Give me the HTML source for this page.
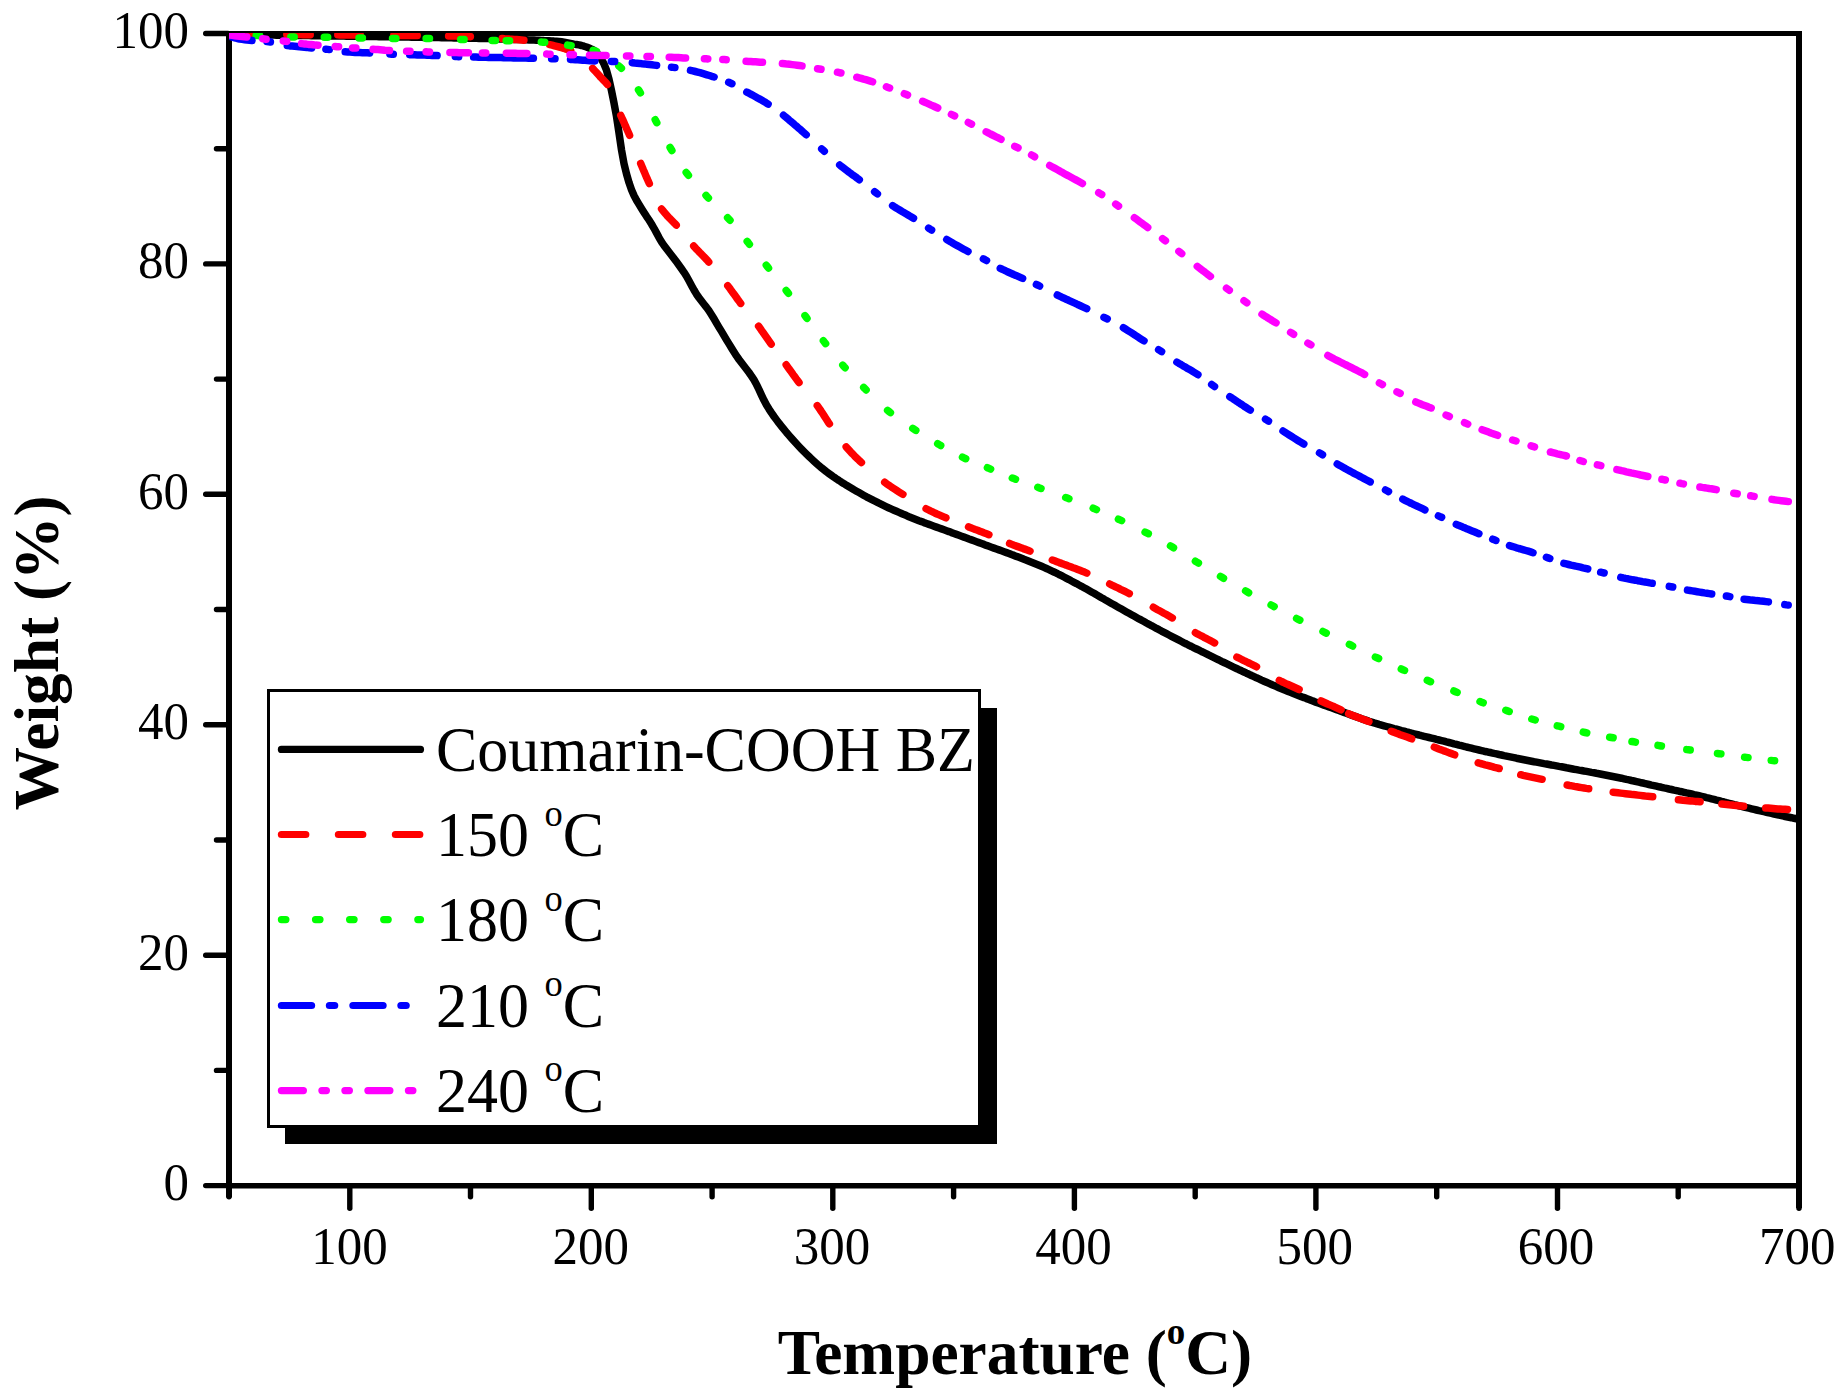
<!DOCTYPE html>
<html lang="en"><head><meta charset="utf-8"><title>TGA – Weight (%) vs Temperature (°C)</title>
<style>html,body{margin:0;padding:0;background:#fff}body{width:1848px;height:1397px;overflow:hidden}svg{display:block}text{font-family:"Liberation Serif",serif;fill:#000}.tk{font-size:51px}.lg{font-size:62px}.ti{font-size:63.4px;font-weight:bold}.c{fill:none;stroke-width:7.5;stroke-linecap:round;stroke-linejoin:round}</style></head><body>
<svg width="1848" height="1397" viewBox="0 0 1848 1397">
<rect width="1848" height="1397" fill="#fff"/>
<g fill="#000">
<rect x="226" y="31" width="6" height="1166.5"/>
<rect x="1796" y="31" width="6" height="1177"/>
<rect x="226" y="31" width="1576" height="5"/>
<rect x="226" y="1183" width="1576" height="5.5"/>
</g>
<g stroke="#000" stroke-linecap="round" fill="none">
<line x1="205.7" y1="1185.6" x2="228" y2="1185.6" stroke-width="5.4"/>
<line x1="216.5" y1="1070.4" x2="228" y2="1070.4" stroke-width="5.4"/>
<line x1="205.7" y1="955.2" x2="228" y2="955.2" stroke-width="5.4"/>
<line x1="216.5" y1="840" x2="228" y2="840" stroke-width="5.4"/>
<line x1="205.7" y1="724.8" x2="228" y2="724.8" stroke-width="5.4"/>
<line x1="216.5" y1="609.5" x2="228" y2="609.5" stroke-width="5.4"/>
<line x1="205.7" y1="494.3" x2="228" y2="494.3" stroke-width="5.4"/>
<line x1="216.5" y1="379.1" x2="228" y2="379.1" stroke-width="5.4"/>
<line x1="205.7" y1="263.9" x2="228" y2="263.9" stroke-width="5.4"/>
<line x1="216.5" y1="148.7" x2="228" y2="148.7" stroke-width="5.4"/>
<line x1="205.7" y1="33.5" x2="228" y2="33.5" stroke-width="5.4"/>
<line x1="229" y1="1186" x2="229" y2="1196.8" stroke-width="5.4"/>
<line x1="349.8" y1="1186" x2="349.8" y2="1208.3" stroke-width="5.4"/>
<line x1="470.5" y1="1186" x2="470.5" y2="1196.8" stroke-width="5.4"/>
<line x1="591.3" y1="1186" x2="591.3" y2="1208.3" stroke-width="5.4"/>
<line x1="712.1" y1="1186" x2="712.1" y2="1196.8" stroke-width="5.4"/>
<line x1="832.8" y1="1186" x2="832.8" y2="1208.3" stroke-width="5.4"/>
<line x1="953.6" y1="1186" x2="953.6" y2="1196.8" stroke-width="5.4"/>
<line x1="1074.4" y1="1186" x2="1074.4" y2="1208.3" stroke-width="5.4"/>
<line x1="1195.2" y1="1186" x2="1195.2" y2="1196.8" stroke-width="5.4"/>
<line x1="1315.9" y1="1186" x2="1315.9" y2="1208.3" stroke-width="5.4"/>
<line x1="1436.7" y1="1186" x2="1436.7" y2="1196.8" stroke-width="5.4"/>
<line x1="1557.5" y1="1186" x2="1557.5" y2="1208.3" stroke-width="5.4"/>
<line x1="1678.2" y1="1186" x2="1678.2" y2="1196.8" stroke-width="5.4"/>
<line x1="1799" y1="1186" x2="1799" y2="1208.3" stroke-width="5.4"/>
</g>
<clipPath id="cp"><rect x="229" y="33" width="1570" height="1153"/></clipPath>
<g clip-path="url(#cp)">
<path class="c" stroke="#000" stroke-width="7.8" d="M229 34.5 L231.5 34.5 L234 34.6 L236.5 34.6 L239 34.6 L241.5 34.7 L244 34.7 L246.5 34.7 L249 34.8 L251.5 34.8 L254 34.8 L256.5 34.9 L259 34.9 L261.5 35 L264 35 L266.5 35 L269 35.1 L271.5 35.1 L274 35.1 L276.5 35.2 L279 35.2 L281.5 35.2 L284 35.3 L286.5 35.3 L289 35.3 L291.5 35.4 L294 35.4 L296.5 35.4 L299 35.5 L301.5 35.5 L304 35.6 L306.5 35.6 L309 35.6 L311.5 35.7 L314 35.7 L316.5 35.7 L319 35.8 L321.5 35.8 L324 35.8 L326.5 35.9 L329 35.9 L331.5 36 L334 36 L336.5 36 L339 36.1 L341.5 36.1 L344 36.1 L346.5 36.2 L349 36.2 L351.5 36.3 L354 36.3 L356.5 36.3 L359 36.4 L361.5 36.4 L364 36.4 L366.5 36.5 L369 36.5 L371.5 36.6 L374 36.6 L376.5 36.6 L379 36.7 L381.5 36.7 L384 36.7 L386.5 36.8 L389 36.8 L391.5 36.9 L394 36.9 L396.5 36.9 L399 37 L401.5 37 L404 37.1 L406.5 37.1 L409 37.1 L411.5 37.2 L414 37.2 L416.5 37.3 L419 37.3 L421.5 37.3 L424 37.4 L426.5 37.4 L429 37.5 L431.5 37.5 L434 37.5 L436.5 37.6 L439 37.6 L441.5 37.7 L444 37.7 L446.5 37.7 L449 37.8 L451.5 37.8 L454 37.9 L456.5 37.9 L459 38 L461.5 38 L464 38.1 L466.5 38.1 L469 38.2 L471.5 38.2 L474 38.3 L476.5 38.3 L479 38.4 L481.5 38.4 L484 38.5 L486.5 38.6 L489 38.6 L491.5 38.7 L494 38.8 L496.5 38.8 L499 38.9 L501.5 39 L504 39 L506.5 39.1 L509 39.2 L511.5 39.3 L514 39.4 L516.5 39.5 L519 39.5 L521.5 39.6 L524 39.7 L526.5 39.8 L529 39.9 L531.5 40 L534 40.1 L536.5 40.2 L539 40.3 L541.5 40.4 L544 40.6 L546.5 40.7 L549 40.8 L551.5 40.9 L554 41.1 L556.5 41.2 L559 41.4 L561.5 41.7 L564 42.1 L566.5 42.6 L569 43.1 L571.5 43.6 L574 44.1 L576.5 44.5 L579 44.9 L581.5 45.5 L584 46.2 L586.5 47 L589 48 L591.5 49.1 L594 50.4 L596.5 52.5 L599 55.6 L601.5 59.3 L604 64 L606.5 70.2 L609 79.2 L611.5 90.6 L614 103.1 L616.5 116.4 L619 132.9 L621.5 149.9 L624 163.6 L626.5 173.9 L629 182.6 L631.5 189.8 L634 195.6 L636.5 200.3 L639 204.4 L641.5 208.4 L644 212.4 L646.5 216.3 L649 220 L651.5 224 L654 228.3 L656.5 232.9 L659 237.6 L661.5 241.8 L664 245.5 L666.5 248.8 L669 252 L671.5 255.2 L674 258.5 L676.5 261.8 L679 265.2 L681.5 268.7 L684 272.3 L686.5 276.2 L689 280.7 L691.5 285.4 L694 290 L696.5 294.2 L699 297.7 L701.5 301 L704 304.2 L706.5 307.4 L709 310.8 L711.5 314.7 L714 318.8 L716.5 323.1 L719 327.3 L721.5 331.4 L724 335.6 L726.5 339.8 L729 343.9 L731.5 348 L734 352 L736.5 355.9 L739 359.5 L741.5 362.8 L744 366 L746.5 369.2 L749 372.5 L751.5 376.1 L754 379.9 L756.5 384.5 L759 389.6 L761.5 395.1 L764 400.3 L766.5 405.1 L769 409.1 L771.5 412.9 L774 416.5 L776.5 419.9 L779 423.2 L781.5 426.3 L784 429.4 L786.5 432.5 L789 435.4 L791.5 438.3 L794 441.1 L796.5 443.8 L799 446.5 L801.5 449.1 L804 451.6 L806.5 454.1 L809 456.5 L811.5 458.9 L814 461.2 L816.5 463.5 L819 465.7 L821.5 467.8 L824 469.8 L826.5 471.8 L829 473.6 L831.5 475.4 L834 477.2 L836.5 478.9 L839 480.5 L841.5 482.2 L844 483.7 L846.5 485.3 L849 486.8 L851.5 488.3 L854 489.8 L856.5 491.2 L859 492.6 L861.5 494 L864 495.4 L866.5 496.8 L869 498.1 L871.5 499.4 L874 500.7 L876.5 501.9 L879 503.2 L881.5 504.4 L884 505.6 L886.5 506.8 L889 508 L891.5 509.1 L894 510.2 L896.5 511.3 L899 512.4 L901.5 513.5 L904 514.6 L906.5 515.6 L909 516.7 L911.5 517.7 L914 518.7 L916.5 519.7 L919 520.7 L921.5 521.6 L924 522.6 L926.5 523.5 L929 524.4 L931.5 525.3 L934 526.2 L936.5 527.1 L939 528 L941.5 528.9 L944 529.8 L946.5 530.7 L949 531.6 L951.5 532.6 L954 533.5 L956.5 534.4 L959 535.3 L961.5 536.2 L964 537.1 L966.5 538 L969 539 L971.5 539.9 L974 540.8 L976.5 541.7 L979 542.6 L981.5 543.5 L984 544.4 L986.5 545.4 L989 546.3 L991.5 547.2 L994 548.1 L996.5 549 L999 549.9 L1001.5 550.8 L1004 551.7 L1006.5 552.6 L1009 553.5 L1011.5 554.5 L1014 555.4 L1016.5 556.4 L1019 557.3 L1021.5 558.3 L1024 559.3 L1026.5 560.2 L1029 561.2 L1031.5 562.2 L1034 563.2 L1036.5 564.2 L1039 565.2 L1041.5 566.3 L1044 567.4 L1046.5 568.5 L1049 569.6 L1051.5 570.8 L1054 572 L1056.5 573.2 L1059 574.5 L1061.5 575.7 L1064 577 L1066.5 578.3 L1069 579.6 L1071.5 581 L1074 582.3 L1076.5 583.6 L1079 585 L1081.5 586.3 L1084 587.7 L1086.5 589.1 L1089 590.5 L1091.5 591.9 L1094 593.3 L1096.5 594.8 L1099 596.2 L1101.5 597.7 L1104 599.1 L1106.5 600.6 L1109 602 L1111.5 603.4 L1114 604.8 L1116.5 606.3 L1119 607.7 L1121.5 609.1 L1124 610.5 L1126.5 611.9 L1129 613.3 L1131.5 614.7 L1134 616.1 L1136.5 617.5 L1139 618.9 L1141.5 620.2 L1144 621.6 L1146.5 623 L1149 624.3 L1151.5 625.7 L1154 627 L1156.5 628.4 L1159 629.7 L1161.5 631.1 L1164 632.4 L1166.5 633.7 L1169 635 L1171.5 636.3 L1174 637.6 L1176.5 638.9 L1179 640.2 L1181.5 641.5 L1184 642.8 L1186.5 644 L1189 645.3 L1191.5 646.5 L1194 647.8 L1196.5 649 L1199 650.2 L1201.5 651.5 L1204 652.7 L1206.5 653.9 L1209 655.2 L1211.5 656.4 L1214 657.6 L1216.5 658.8 L1219 660 L1221.5 661.3 L1224 662.5 L1226.5 663.7 L1229 664.9 L1231.5 666.1 L1234 667.3 L1236.5 668.5 L1239 669.7 L1241.5 670.8 L1244 672 L1246.5 673.2 L1249 674.3 L1251.5 675.5 L1254 676.6 L1256.5 677.8 L1259 678.9 L1261.5 680.1 L1264 681.2 L1266.5 682.3 L1269 683.4 L1271.5 684.5 L1274 685.6 L1276.5 686.6 L1279 687.7 L1281.5 688.7 L1284 689.7 L1286.5 690.7 L1289 691.8 L1291.5 692.7 L1294 693.7 L1296.5 694.7 L1299 695.7 L1301.5 696.7 L1304 697.6 L1306.5 698.6 L1309 699.5 L1311.5 700.5 L1314 701.4 L1316.5 702.4 L1319 703.3 L1321.5 704.2 L1324 705.1 L1326.5 706 L1329 706.9 L1331.5 707.8 L1334 708.7 L1336.5 709.6 L1339 710.5 L1341.5 711.5 L1344 712.4 L1346.5 713.3 L1349 714.2 L1351.5 715.1 L1354 716 L1356.5 716.9 L1359 717.8 L1361.5 718.7 L1364 719.6 L1366.5 720.4 L1369 721.3 L1371.5 722.1 L1374 722.9 L1376.5 723.6 L1379 724.4 L1381.5 725.1 L1384 725.8 L1386.5 726.5 L1389 727.2 L1391.5 727.9 L1394 728.6 L1396.5 729.2 L1399 729.9 L1401.5 730.6 L1404 731.2 L1406.5 731.9 L1409 732.5 L1411.5 733.2 L1414 733.8 L1416.5 734.4 L1419 735 L1421.5 735.7 L1424 736.3 L1426.5 736.9 L1429 737.5 L1431.5 738.1 L1434 738.7 L1436.5 739.4 L1439 740 L1441.5 740.6 L1444 741.2 L1446.5 741.9 L1449 742.5 L1451.5 743.1 L1454 743.8 L1456.5 744.4 L1459 745.1 L1461.5 745.7 L1464 746.3 L1466.5 747 L1469 747.6 L1471.5 748.2 L1474 748.8 L1476.5 749.4 L1479 750 L1481.5 750.6 L1484 751.2 L1486.5 751.7 L1489 752.3 L1491.5 752.8 L1494 753.4 L1496.5 753.9 L1499 754.5 L1501.5 755 L1504 755.6 L1506.5 756.1 L1509 756.6 L1511.5 757.1 L1514 757.6 L1516.5 758.2 L1519 758.7 L1521.5 759.2 L1524 759.7 L1526.5 760.2 L1529 760.7 L1531.5 761.2 L1534 761.7 L1536.5 762.1 L1539 762.6 L1541.5 763.1 L1544 763.6 L1546.5 764 L1549 764.5 L1551.5 765 L1554 765.4 L1556.5 765.9 L1559 766.4 L1561.5 766.8 L1564 767.3 L1566.5 767.8 L1569 768.2 L1571.5 768.7 L1574 769.2 L1576.5 769.6 L1579 770.1 L1581.5 770.5 L1584 771 L1586.5 771.4 L1589 771.9 L1591.5 772.4 L1594 772.8 L1596.5 773.3 L1599 773.7 L1601.5 774.2 L1604 774.7 L1606.5 775.2 L1609 775.7 L1611.5 776.2 L1614 776.7 L1616.5 777.2 L1619 777.7 L1621.5 778.2 L1624 778.8 L1626.5 779.4 L1629 779.9 L1631.5 780.5 L1634 781 L1636.5 781.6 L1639 782.2 L1641.5 782.8 L1644 783.3 L1646.5 783.9 L1649 784.5 L1651.5 785.1 L1654 785.6 L1656.5 786.2 L1659 786.8 L1661.5 787.3 L1664 787.9 L1666.5 788.4 L1669 789 L1671.5 789.5 L1674 790.1 L1676.5 790.6 L1679 791.2 L1681.5 791.7 L1684 792.3 L1686.5 792.9 L1689 793.4 L1691.5 794 L1694 794.6 L1696.5 795.1 L1699 795.7 L1701.5 796.3 L1704 796.9 L1706.5 797.6 L1709 798.2 L1711.5 798.8 L1714 799.4 L1716.5 800.1 L1719 800.7 L1721.5 801.4 L1724 802 L1726.5 802.7 L1729 803.3 L1731.5 803.9 L1734 804.6 L1736.5 805.2 L1739 805.8 L1741.5 806.4 L1744 807 L1746.5 807.6 L1749 808.2 L1751.5 808.8 L1754 809.4 L1756.5 810 L1759 810.6 L1761.5 811.1 L1764 811.7 L1766.5 812.3 L1769 812.9 L1771.5 813.4 L1774 814 L1776.5 814.5 L1779 815.1 L1781.5 815.6 L1784 816.2 L1786.5 816.7 L1789 817.2 L1791.5 817.7 L1794 818.3 L1796.5 818.8 L1799 819.3"/>
<path class="c" stroke="#f00" d="M225.2 34.5 L227.7 34.5 L230.1 34.5 L232.5 34.5 L234.9 34.5 L237.3 34.5 L239.7 34.5 L242.1 34.5 L244.5 34.5 L246.9 34.5 L249.3 34.5 L251.7 34.5 L254.1 34.5 L256.5 34.5 M286.8 34.6 L289.1 34.6 L291.5 34.6 L293.8 34.6 L296.2 34.6 L298.5 34.6 L300.9 34.6 L303.2 34.7 L305.6 34.7 L307.9 34.7 L310.2 34.7 M337.8 34.8 L340 34.9 L342.3 34.9 L344.5 34.9 L346.8 34.9 L349 34.9 L351.3 34.9 L353.5 35 L355.8 35 L358 35 L360.2 35 M393.8 35.3 L396.1 35.3 L398.5 35.4 L400.8 35.4 L403.2 35.4 L405.5 35.4 L407.9 35.5 L410.2 35.5 L412.6 35.5 L414.9 35.5 L417.2 35.6 M448.6 36 L451 36 L453.4 36.1 L455.9 36.1 L458.3 36.2 L460.7 36.3 L463.1 36.4 L465.6 36.5 L468 36.6 L470.4 36.7 M502.1 38.6 L504.5 38.8 L507 38.9 L509.4 39.1 L511.8 39.2 L514.2 39.4 L516.6 39.6 L519 39.8 L521.5 40 L523.9 40.2 M549.7 44.7 L552.1 45.2 L554.5 45.8 L556.8 46.4 L559.2 47 L561.5 47.6 L563.8 48.3 L566.1 49.1 L568.4 49.8 L570.7 50.7 M592.7 68.4 L594.3 70.2 L596 72 L597.6 73.8 L599.2 75.6 L600.8 77.4 L602.5 79.1 L604.2 80.9 L605.9 82.6 L607.4 84.5 M620.8 115.5 L621.8 117.7 L622.8 119.9 L623.8 122.1 L624.8 124.4 L625.8 126.6 L626.7 128.8 L627.7 131 L628.7 133.2 L629.6 135.4 M640.7 163.5 L641.6 165.7 L642.6 168 L643.5 170.2 L644.5 172.4 L645.4 174.6 L646.4 176.9 L647.4 179.1 L648.3 181.3 L649.3 183.5 M661.6 209 L663.1 210.9 L664.6 212.8 L666.2 214.6 L667.8 216.4 L669.5 218.2 L671.2 219.9 L672.9 221.6 L674.6 223.3 L676.2 225.1 M693.7 246.1 L695.4 247.9 L697 249.7 L698.7 251.4 L700.4 253.2 L702.1 254.9 L703.8 256.6 L705.5 258.4 L707.1 260.1 L708.7 261.9 M727.8 285.8 L729.3 287.7 L730.7 289.7 L732.1 291.6 L733.5 293.6 L735 295.6 L736.4 297.5 L737.8 299.5 L739.2 301.4 L740.7 303.4 M758.6 326.2 L760 328.2 L761.4 330.2 L762.8 332.1 L764.2 334.1 L765.6 336.1 L767 338.1 L768.4 340.1 L769.8 342.1 L771.2 344.1 M786.2 364.8 L787.6 366.8 L789 368.8 L790.4 370.7 L791.8 372.7 L793.2 374.7 L794.7 376.6 L796.1 378.6 L797.5 380.5 L799 382.5 M817.3 405.6 L818.7 407.6 L820.1 409.6 L821.4 411.6 L822.8 413.6 L824.1 415.7 L825.4 417.7 L826.7 419.7 L828 421.8 L829.4 423.8 M846.2 446.9 L847.8 448.7 L849.4 450.5 L851 452.3 L852.7 454 L854.4 455.8 L856.1 457.5 L857.9 459.2 L859.6 460.9 L861.4 462.5 M884.7 482.3 L886.7 483.8 L888.7 485.1 L890.7 486.5 L892.7 487.9 L894.7 489.2 L896.8 490.5 L898.8 491.8 L900.8 493.1 L902.9 494.4 M926.1 508.7 L928.2 509.8 L930.4 510.9 L932.6 511.9 L934.8 513 L937 514 L939.2 514.9 L941.4 515.9 L943.7 516.9 L945.9 517.8 M968.5 526.9 L970.8 527.7 L973 528.6 L975.3 529.5 L977.6 530.3 L979.8 531.2 L982.1 532.1 L984.4 533 L986.6 533.8 L988.9 534.7 M1009.6 543.5 L1011.8 544.4 L1014.1 545.3 L1016.4 546.1 L1018.7 546.9 L1020.9 547.7 L1023.2 548.6 L1025.5 549.4 L1027.8 550.2 L1030 551.1 M1052.3 560 L1054.6 560.8 L1056.9 561.7 L1059.2 562.6 L1061.5 563.4 L1063.8 564.3 L1066.1 565.1 L1068.4 566 L1070.7 566.8 L1073.1 567.7 L1075.4 568.5 L1077.7 569.4 L1079.9 570.3 L1082.2 571.2 L1084.5 572.1 L1086.8 573.1 M1109.7 584 L1111.9 585.1 L1114.1 586.1 L1116.2 587.2 L1118.4 588.2 L1120.6 589.3 L1122.8 590.3 L1125 591.4 L1127.1 592.5 L1129.3 593.6 M1153.3 607.3 L1155.4 608.5 L1157.5 609.7 L1159.6 610.8 L1161.8 612 L1163.9 613.2 L1166 614.3 L1168.1 615.5 L1170.2 616.7 L1172.3 617.9 M1195.4 632.7 L1197.5 633.9 L1199.6 635 L1201.8 636.1 L1203.9 637.3 L1206.1 638.4 L1208.2 639.5 L1210.4 640.6 L1212.5 641.7 L1214.6 642.9 M1236.9 657.1 L1239.1 658.2 L1241.2 659.3 L1243.4 660.4 L1245.6 661.4 L1247.8 662.5 L1250 663.5 L1252.2 664.6 L1254.3 665.6 L1256.5 666.8 M1279.3 680.4 L1281.5 681.5 L1283.7 682.5 L1285.9 683.6 L1288.1 684.5 L1290.3 685.5 L1292.5 686.5 L1294.7 687.5 L1296.9 688.5 L1299.1 689.5 M1321.1 701 L1323.3 702 L1325.5 703 L1327.7 704 L1329.9 704.9 L1332.2 705.9 L1334.4 706.8 L1336.6 707.8 L1338.8 708.8 L1341 709.8 M1348.6 713.7 L1350.8 714.6 L1353 715.6 L1355.3 716.4 L1357.5 717.3 L1359.8 718.1 L1362.1 719 L1364.4 719.8 L1366.6 720.7 L1368.9 721.6 M1391.2 731.3 L1393.5 732.1 L1395.8 733 L1398 733.8 L1400.3 734.7 L1402.6 735.5 L1404.9 736.3 L1407.1 737.1 L1409.4 737.9 L1411.7 738.8 M1434.3 747.1 L1436.5 748 L1438.8 748.9 L1441 749.7 L1443.3 750.6 L1445.6 751.4 L1447.8 752.3 L1450.1 753.1 L1452.4 753.9 L1454.7 754.8 M1478.2 762.8 L1480.5 763.5 L1482.8 764.1 L1485.2 764.8 L1487.5 765.4 L1489.9 766 L1492.2 766.6 L1494.5 767.3 L1496.9 767.9 L1499.2 768.5 M1520.8 774.7 L1523.2 775.3 L1525.5 775.8 L1527.9 776.3 L1530.3 776.8 L1532.6 777.3 L1535 777.8 L1537.4 778.3 L1539.7 778.8 L1542.1 779.3 M1567.2 785 L1569.6 785.5 L1572 785.9 L1574.4 786.4 L1576.7 786.8 L1579.1 787.2 L1581.5 787.6 L1583.9 788 L1586.3 788.4 L1588.7 788.7 M1613.2 792.2 L1615.6 792.5 L1618.1 792.8 L1620.6 793.1 L1623.1 793.4 L1625.5 793.7 L1628 794 L1630.5 794.3 L1632.9 794.6 L1635.4 794.8 L1637.9 795.1 L1640.4 795.4 L1642.8 795.7 L1645.3 796 L1647.8 796.2 L1650.3 796.5 L1652.7 796.8 M1678.4 799.8 L1680.8 800 L1683.2 800.3 L1685.6 800.5 L1688 800.7 L1690.5 800.9 L1692.9 801.1 L1695.3 801.4 L1697.7 801.6 L1700.1 801.8 M1721.9 804.1 L1724.3 804.3 L1726.7 804.5 L1729.1 804.8 L1731.5 805 L1734 805.3 L1736.4 805.5 L1738.8 805.7 L1741.2 805.9 L1743.6 806.2 M1765.7 808 L1768.1 808.1 L1770.6 808.3 L1773 808.5 L1775.4 808.7 L1777.8 808.9 L1780.2 809 L1782.6 809.2 L1785.1 809.3 L1787.5 809.5"/>
<path class="c" stroke="#0f0" d="M256.2 35.5 L257.9 35.6 L259.6 35.7 M290.8 36.9 L292.5 36.9 L294.2 36.9 M324.3 37.3 L326 37.3 L327.7 37.3 M359 38 L360.7 38 L362.4 38 M392.5 38.4 L394.2 38.4 L395.9 38.4 M426.1 38.6 L427.8 38.6 L429.5 38.6 M460.7 39.5 L462.4 39.5 L464.1 39.6 M492.1 40.4 L493.8 40.4 L495.5 40.4 M506.2 40.7 L507.9 40.7 L509.6 40.7 M541.3 42.1 L543 42.2 L544.7 42.3 M567.7 45.1 L569.4 45.4 L571.1 45.7 M593.1 50.3 L594.8 50.8 L596.5 51.3 M618.8 65.9 L620.1 67.1 L621.4 68.3 M638.5 89.9 L639.5 91.4 L640.4 92.9 M655.2 119.7 L656 121.2 L656.8 122.7 M670.1 147.5 L671 149 L671.9 150.5 M686.2 172.5 L687.3 173.9 L688.4 175.3 M706 195.4 L707.2 196.7 L708.4 198 M727.6 217.7 L728.8 219 L730 220.3 M747.2 241.4 L748.3 242.8 L749.4 244.2 M766.3 265.2 L767.4 266.6 L768.5 268 M786.2 290.5 L787.3 291.9 L788.4 293.3 M805 315.6 L806 317 L807 318.4 M823.4 340.8 L824.5 342.2 L825.6 343.6 M842.8 365.2 L843.9 366.5 L845.1 367.8 M863.7 387.5 L864.9 388.7 L866.1 389.9 M887.6 410.4 L889 411.5 L890.4 412.6 M912.8 428.4 L914.3 429.4 L915.8 430.4 M937.7 443.7 L939.2 444.6 L940.7 445.5 M962.5 457.2 L964.1 458 L965.7 458.7 M987.4 467.7 L989 468.4 L990.6 469.1 M1012.3 478 L1013.9 478.6 L1015.5 479.2 M1037.8 487.3 L1039.4 487.9 L1041 488.5 M1065.7 497.5 L1067.3 498.1 L1068.9 498.7 M1093.2 508.2 L1094.8 508.9 L1096.4 509.6 M1118.4 519.2 L1120 519.9 L1121.6 520.6 M1145.1 532.1 L1146.7 532.9 L1148.3 533.7 M1170.5 545.9 L1172 546.8 L1173.5 547.7 M1195.4 561.2 L1196.9 562.1 L1198.4 563 M1220.5 576.4 L1222 577.3 L1223.5 578.2 M1245.6 590.9 L1247.1 591.8 L1248.6 592.7 M1271.1 605 L1272.6 605.8 L1274.1 606.6 M1296.6 618.5 L1298.2 619.3 L1299.8 620.1 M1323 631.5 L1324.6 632.3 L1326.2 633.1 M1349.4 644.4 L1351 645.2 L1352.6 646 M1375.4 657.1 L1377 657.8 L1378.6 658.5 M1401.3 669 L1402.9 669.7 L1404.5 670.4 M1427.3 680.3 L1428.9 681 L1430.5 681.7 M1453.9 691 L1455.5 691.7 L1457.1 692.4 M1480 701.6 L1481.6 702.2 L1483.2 702.8 M1505.8 710.3 L1507.5 710.9 L1509.2 711.5 M1531.8 719 L1533.5 719.5 L1535.2 720 M1557.3 725.8 L1559 726.2 L1560.7 726.6 M1583.3 732.1 L1585 732.5 L1586.7 732.9 M1609.7 737.2 L1611.4 737.5 L1613.1 737.8 M1632 741.5 L1633.7 741.8 L1635.4 742.1 M1658 745.4 L1659.7 745.7 L1661.4 746 M1686.8 749.6 L1688.5 749.8 L1690.2 750 M1717.5 753.5 L1719.2 753.7 L1720.9 753.9 M1744.6 757.2 L1746.3 757.4 L1748 757.6 M1771.2 760.4 L1772.9 760.6 L1774.6 760.8"/>
<path class="c" stroke="#00f" d="M225.3 36 L227.7 36 L230.1 36.4 L232.5 37.1 L234.9 37.8 L237.3 38.5 L239.7 39 L242.1 39.4 L244.6 39.7 L247 40 L249.5 40.2 L252 40.5 M287.3 45.6 L289.7 45.9 L292.2 46.1 L294.6 46.3 L297.1 46.5 L299.5 46.8 L301.9 47 L304.4 47.2 L306.8 47.4 L309.3 47.7 L311.7 47.9 M345.2 51.8 L347.7 51.9 L350.1 52.1 L352.6 52.3 L355 52.4 L357.4 52.5 L359.9 52.6 L362.3 52.7 L364.8 52.8 L367.2 52.8 L369.7 52.9 M409.7 54.7 L412.2 54.8 L414.7 54.8 L417.2 54.9 L419.7 55 L422.2 55.1 L424.6 55.1 L427.1 55.2 L429.6 55.3 L432.1 55.4 L434.6 55.5 L437.1 55.6 M473.6 57 L476 57.1 L478.5 57.2 L481 57.2 L483.5 57.3 L486 57.3 L488.5 57.4 L491 57.4 L493.5 57.5 L496 57.5 L498.5 57.6 L501 57.6 L503.5 57.7 L506 57.7 L508.5 57.8 L511 57.8 L513.5 57.9 L516 57.9 L518.5 58 L521 58 L523.5 58.1 L526 58.1 L528.5 58.2 L531 58.2 L533.4 58.3 M570.5 59.4 L572.9 59.5 L575.4 59.7 L577.8 59.8 L580.3 60 L582.7 60.2 L585.1 60.3 L587.6 60.5 L590 60.7 L592.5 60.8 L594.9 60.9 M632.3 62.7 L634.7 63 L637.1 63.2 L639.6 63.4 L642 63.7 L644.5 63.9 L646.9 64.2 L649.3 64.5 L651.8 64.8 L654.2 65.1 L656.6 65.4 M690.5 70.4 L692.9 70.9 L695.3 71.5 L697.6 72.1 L700 72.7 L702.4 73.4 L704.7 74.1 L707 74.8 L709.4 75.5 L711.7 76.3 L714.1 77 M746.8 92.1 L749 93.2 L751.2 94.4 L753.3 95.5 L755.5 96.7 L757.6 97.9 L759.8 99.1 L761.9 100.3 L764 101.6 L766.1 102.8 L768.1 104.1 M783.5 115.2 L785.2 116.7 L787 118.2 L788.8 119.7 L790.5 121.2 L792.3 122.7 L794.1 124.2 L795.8 125.7 L797.6 127.2 L799.3 128.7 L801.1 130.2 L802.8 131.8 L804.5 133.3 L806.2 134.8 M839.7 165 L841.6 166.6 L843.6 168.1 L845.5 169.5 L847.5 171 L849.4 172.5 L851.4 173.9 L853.4 175.4 L855.4 176.8 L857.3 178.3 L859.3 179.8 M892.6 205.6 L894.6 207 L896.7 208.3 L898.8 209.5 L900.9 210.8 L903 212.1 L905.1 213.3 L907.2 214.5 L909.3 215.8 L911.4 217 L913.5 218.3 M946.7 239.5 L948.8 240.7 L950.9 241.9 L953 243.2 L955.1 244.4 L957.3 245.6 L959.4 246.8 L961.5 248 L963.7 249.2 L965.8 250.3 L968 251.5 M1000.3 268.3 L1002.5 269.4 L1004.7 270.4 L1006.9 271.5 L1009.1 272.5 L1011.4 273.5 L1013.6 274.5 L1015.9 275.4 L1018.1 276.4 L1020.3 277.4 L1022.6 278.4 M1057.3 295 L1059.6 296.1 L1061.8 297.2 L1064.1 298.2 L1066.3 299.3 L1068.6 300.3 L1070.9 301.4 L1073.1 302.4 L1075.4 303.4 L1077.6 304.5 L1079.9 305.5 L1082.2 306.6 L1084.4 307.6 L1086.7 308.7 M1123.4 327.7 L1125.5 329 L1127.5 330.3 L1129.6 331.6 L1131.7 332.9 L1133.7 334.3 L1135.8 335.6 L1137.8 336.9 L1139.9 338.3 L1141.9 339.6 L1144 340.9 M1176.9 362.1 L1179 363.4 L1181.1 364.6 L1183.2 365.9 L1185.3 367.1 L1187.5 368.4 L1189.6 369.6 L1191.7 370.8 L1193.8 372.1 L1195.9 373.4 L1197.9 374.7 M1229.8 396.7 L1231.9 398 L1233.9 399.4 L1235.9 400.8 L1238 402.1 L1240 403.5 L1242.1 404.8 L1244.1 406.2 L1246.2 407.5 L1248.2 408.8 L1250.3 410.1 M1283 431 L1285.1 432.4 L1287.1 433.7 L1289.2 435 L1291.3 436.3 L1293.4 437.6 L1295.4 438.9 L1297.5 440.2 L1299.6 441.5 L1301.7 442.7 L1303.8 444 M1337.2 464 L1339.3 465.2 L1341.3 466.3 L1343.4 467.5 L1345.4 468.6 L1347.4 469.8 L1349.5 470.9 L1351.6 472 L1353.6 473.1 L1355.7 474.2 L1357.8 475.3 L1359.8 476.4 L1361.9 477.5 L1364 478.6 L1366.1 479.7 L1368.1 480.8 L1370.2 481.9 M1402.8 499.2 L1405 500.3 L1407.2 501.4 L1409.4 502.5 L1411.6 503.5 L1413.8 504.6 L1416 505.6 L1418.2 506.7 L1420.4 507.7 L1422.6 508.7 L1424.9 509.8 M1456.3 524.3 L1458.5 525.3 L1460.8 526.2 L1463 527.2 L1465.3 528.1 L1467.5 529.1 L1469.8 530 L1472.1 530.9 L1474.3 531.8 L1476.6 532.8 L1478.9 533.7 M1509.5 545.6 L1511.9 546.3 L1514.2 547 L1516.5 547.8 L1518.9 548.5 L1521.2 549.1 L1523.6 549.8 L1525.9 550.5 L1528.3 551.2 L1530.6 551.9 L1533 552.7 M1563.9 563.3 L1566.3 563.9 L1568.6 564.5 L1571 565.1 L1573.4 565.6 L1575.8 566.2 L1578.2 566.7 L1580.6 567.2 L1583 567.8 L1585.3 568.3 L1587.7 568.9 M1620.8 577.3 L1623.2 577.9 L1625.6 578.4 L1628 578.8 L1630.4 579.3 L1632.8 579.8 L1635.3 580.2 L1637.7 580.7 L1640.1 581.1 L1642.5 581.6 L1645 582 L1647.4 582.4 L1649.8 582.9 L1652.2 583.3 M1687.5 590.1 L1689.9 590.5 L1692.3 590.9 L1694.8 591.3 L1697.2 591.7 L1699.6 592.1 L1702 592.5 L1704.4 592.9 L1706.9 593.2 L1709.3 593.6 L1711.7 594 M1744.1 599.2 L1746.5 599.5 L1748.9 599.8 L1751.4 600.1 L1753.8 600.3 L1756.2 600.6 L1758.7 600.8 L1761.1 601.1 L1763.6 601.3 L1766 601.6 L1768.4 601.9 M267 41.6 L268.7 41.8 L270.4 42 M325.9 49.2 L327.6 49.4 L329.3 49.6 M389.9 54.1 L391.6 54.2 L393.3 54.3 M455.3 56.5 L457 56.6 L458.7 56.7 M551.6 58.7 L553.3 58.7 L555 58.8 M611.3 61.4 L613 61.5 L614.7 61.6 M671.5 67.2 L673.2 67.4 L674.9 67.6 M728.7 82.3 L730.3 83 L731.9 83.7 M821.7 148.9 L823 150.1 L824.3 151.3 M874.6 191.7 L876 192.8 L877.4 193.9 M928.6 228.1 L930.1 229.1 L931.6 230 M983.4 258.9 L985 259.7 L986.5 260.5 M1036.4 284.5 L1038 285.2 L1039.6 286 M1104 317.3 L1105.6 318.1 L1107.2 318.9 M1158.6 349.7 L1160.1 350.6 L1161.6 351.6 M1211.7 384.5 L1213.1 385.5 L1214.5 386.5 M1265.5 419.2 L1267 420.1 L1268.5 421.1 M1319.5 452.9 L1321 453.8 L1322.5 454.7 M1385.5 490 L1387 490.8 L1388.5 491.6 M1438.4 515.9 L1440 516.6 L1441.6 517.3 M1492.7 539.2 L1494.3 539.8 L1495.9 540.4 M1546.4 557.3 L1548.1 557.9 L1549.8 558.5 M1600.7 572.2 L1602.4 572.6 L1604.1 573 M1669.3 586.4 L1671 586.7 L1672.7 587 M1726.4 596 L1728.1 596.3 L1729.8 596.6 M1784.8 604.6 L1786.5 604.9 L1788.2 605.1"/>
<path class="c" stroke="#f0f" d="M225.3 35 L227.7 35 L230.1 35.1 L232.4 35.4 L234.8 35.7 L237.2 36 L239.6 36.2 L242 36.5 L244.4 36.8 L246.8 37 M301.6 43.6 L303.9 43.9 L306.3 44.1 L308.6 44.4 L311 44.6 L313.3 44.8 L315.7 45.1 L318 45.3 M373.1 49.2 L375.4 49.4 L377.8 49.6 L380.1 49.8 L382.5 50 L384.8 50.3 L387.2 50.4 L389.5 50.6 M449.9 52.6 L452.3 52.6 L454.6 52.6 L456.9 52.6 L459.2 52.7 L461.5 52.7 L463.8 52.7 L466.1 52.7 L468.4 52.7 M506.3 53.2 L508.5 53.3 L510.8 53.3 L513.1 53.3 L515.4 53.3 L517.7 53.4 L520 53.4 L522.3 53.4 L524.6 53.5 L526.9 53.5 M589.5 55.2 L591.9 55.2 L594.3 55.3 L596.6 55.3 L599 55.4 L601.3 55.4 L603.7 55.5 L606.1 55.5 M669.2 57.2 L671.5 57.3 L673.9 57.4 L676.2 57.5 L678.6 57.6 L680.9 57.7 L683.3 57.9 L685.6 58 M746.1 61.2 L748.4 61.4 L750.8 61.5 L753.1 61.7 L755.5 61.8 L757.8 62 L760.2 62.2 L762.5 62.3 M782.4 63.6 L784.8 63.8 L787.3 64.1 L789.7 64.3 L792.2 64.6 L794.6 64.9 L797.1 65.2 L799.5 65.5 L802 65.9 M856.8 77.2 L859.1 77.8 L861.3 78.4 L863.6 79.1 L865.8 79.7 L868.1 80.4 L870.4 81.1 L872.6 81.8 M922.6 101.3 L924.8 102.2 L926.9 103.1 L929.1 104.1 L931.2 105.1 L933.4 106 L935.5 107 L937.7 108 M986.2 131.8 L988.3 132.9 L990.4 134 L992.5 135 L994.7 136.1 L996.8 137.2 L998.9 138.2 L1001 139.3 M1049.7 165.5 L1051.9 166.7 L1054.1 167.9 L1056.2 169.1 L1058.4 170.3 L1060.6 171.6 L1062.8 172.7 L1064.9 173.9 L1067.1 175.1 L1069.3 176.3 L1071.5 177.5 L1073.7 178.7 L1075.9 179.9 L1078 181.1 L1080.2 182.3 L1082.4 183.5 M1134.4 217.7 L1136.3 219.1 L1138.2 220.5 L1140.1 221.9 L1142 223.3 L1143.9 224.7 L1145.8 226.1 L1147.7 227.5 M1197.3 266.4 L1199.2 267.9 L1201 269.3 L1202.9 270.7 L1204.8 272.1 L1206.7 273.6 L1208.5 275 L1210.4 276.4 M1262 314.2 L1264 315.5 L1266 316.7 L1268 318 L1270 319.2 L1272 320.5 L1274 321.7 L1276 322.9 M1327.8 355.5 L1329.9 356.7 L1332.1 357.8 L1334.2 359 L1336.4 360.1 L1338.6 361.2 L1340.7 362.3 L1342.9 363.4 L1345.1 364.5 L1347.3 365.5 L1349.4 366.6 L1351.6 367.7 L1353.8 368.8 L1356 369.9 L1358.1 371 L1360.3 372.1 L1362.5 373.2 L1364.6 374.4 M1415.8 402 L1418 402.9 L1420.2 403.8 L1422.4 404.7 L1424.6 405.5 L1426.8 406.3 L1429 407.2 L1431.2 408 M1482.1 429.7 L1484.3 430.5 L1486.5 431.3 L1488.7 432.1 L1490.9 433 L1493.1 433.7 L1495.3 434.5 L1497.6 435.3 M1550.4 452 L1552.7 452.6 L1555 453.2 L1557.3 453.8 L1559.5 454.3 L1561.8 454.9 L1564.1 455.4 L1566.4 456 M1616.9 469.6 L1619.3 470.1 L1621.6 470.7 L1624 471.2 L1626.4 471.8 L1628.8 472.3 L1631.1 472.9 L1633.5 473.4 L1635.9 473.9 L1638.3 474.4 L1640.7 475 L1643.1 475.5 L1645.4 476 L1647.8 476.5 M1699.9 487 L1702.2 487.4 L1704.6 487.7 L1706.9 488.1 L1709.2 488.5 L1711.5 488.8 L1713.9 489.2 L1716.2 489.6 M1772 499.4 L1774.3 499.8 L1776.6 500.1 L1779 500.4 L1781.3 500.7 L1783.7 501 L1786 501.3 L1788.3 501.6 M262.7 38.8 L264.4 39 L266.1 39.2 M283.3 41 L285 41.2 L286.7 41.4 M335.2 46.6 L336.9 46.7 L338.6 46.8 M352.5 47.9 L354.2 48 L355.9 48.1 M406.6 51.2 L408.3 51.2 L410 51.3 M426.1 51.8 L427.8 51.9 L429.5 52 M482.4 53.1 L484.1 53.1 L485.8 53.1 M546.7 54.1 L548.4 54.2 L550.1 54.2 M570 54.7 L571.7 54.7 L573.4 54.7 M626.5 56 L628.2 56 L629.9 56 M647 56.5 L648.7 56.6 L650.4 56.6 M704.4 58.7 L706.1 58.8 L707.8 58.9 M722.8 59.5 L724.5 59.6 L726.2 59.7 M817.6 68.7 L819.3 69 L821 69.3 M837.5 72.2 L839.2 72.6 L840.9 73 M886.4 86.8 L888 87.4 L889.6 88 M904.3 93.7 L905.9 94.3 L907.5 95 M951.4 114.4 L953 115.1 L954.6 115.9 M968.3 122.5 L969.9 123.3 L971.5 124.1 M1014.8 146.3 L1016.4 147.1 L1018 147.9 M1031.6 155 L1033.1 155.8 L1034.6 156.7 M1098.7 192.7 L1100.2 193.6 L1101.7 194.5 M1115.7 204.1 L1117.1 205.1 L1118.5 206.1 M1162.6 238.6 L1164 239.7 L1165.4 240.8 M1178.9 251.4 L1180.3 252.5 L1181.7 253.6 M1226.5 288.3 L1227.9 289.3 L1229.3 290.3 M1244 300.8 L1245.4 301.8 L1246.8 302.8 M1290.6 332.4 L1292.1 333.3 L1293.6 334.2 M1307.9 343.1 L1309.4 344 L1310.9 344.9 M1379.4 383 L1380.9 383.8 L1382.4 384.6 M1397 391.8 L1398.6 392.6 L1400.1 393.4 M1446.1 415.1 L1447.7 415.8 L1449.3 416.5 M1464.5 422.7 L1466.1 423.4 L1467.7 424.1 M1512.6 440 L1514.3 440.5 L1516 441 M1531.1 445.9 L1532.8 446.4 L1534.5 446.9 M1579.9 460.5 L1581.6 461 L1583.3 461.5 M1597.4 464.8 L1599.1 465.2 L1600.8 465.6 M1661.9 479.3 L1663.6 479.6 L1665.3 480 M1680 483.2 L1681.7 483.6 L1683.4 483.9 M1733.8 493.2 L1735.5 493.5 L1737.2 493.8 M1750.7 495.8 L1752.4 496.1 L1754.1 496.4"/>
</g>
<text class="tk" transform="translate(189 1200.1) scale(1 1.035)" text-anchor="end">0</text>
<text class="tk" transform="translate(189 969.7) scale(1 1.035)" text-anchor="end">20</text>
<text class="tk" transform="translate(189 739.3) scale(1 1.035)" text-anchor="end">40</text>
<text class="tk" transform="translate(189 508.8) scale(1 1.035)" text-anchor="end">60</text>
<text class="tk" transform="translate(189 278.4) scale(1 1.035)" text-anchor="end">80</text>
<text class="tk" transform="translate(189 48) scale(1 1.035)" text-anchor="end">100</text>
<text class="tk" transform="translate(349.6 1264) scale(1 1.035)" text-anchor="middle">100</text>
<text class="tk" transform="translate(590.8 1264) scale(1 1.035)" text-anchor="middle">200</text>
<text class="tk" transform="translate(832.1 1264) scale(1 1.035)" text-anchor="middle">300</text>
<text class="tk" transform="translate(1073.4 1264) scale(1 1.035)" text-anchor="middle">400</text>
<text class="tk" transform="translate(1314.7 1264) scale(1 1.035)" text-anchor="middle">500</text>
<text class="tk" transform="translate(1555.9 1264) scale(1 1.035)" text-anchor="middle">600</text>
<text class="tk" transform="translate(1797.2 1264) scale(1 1.035)" text-anchor="middle">700</text>
<rect x="285" y="708" width="712" height="436" fill="#000"/>
<rect x="268.5" y="690.5" width="711" height="436" fill="#fff" stroke="#000" stroke-width="3"/>
<g class="c" style="stroke-width:7.2">
<path stroke="#000" d="M281.4 749.4 H420.5"/>
<path stroke="#f00" stroke-dasharray="24.4 32.6" d="M281.4 834.5 H420.5"/>
<path stroke="#0f0" stroke-dasharray="4.5 29.6" d="M281.4 919.6 H420.5"/>
<path stroke="#00f" stroke-dasharray="30.2 17.8 5.3 18.2" d="M281.4 1005.5 H410.5"/>
<path stroke="#f0f" stroke-dasharray="22 18.5 4.5 18.5 4.5 18.5" d="M281.4 1090.6 H415.5"/>
</g>
<text class="lg" transform="translate(436 771.3) scale(1 1.012)">Coumarin-COOH BZ</text>
<text class="lg" transform="translate(436 856) scale(1 1.035)">150 <tspan font-size="36.5" dy="-29">o</tspan><tspan dy="29">C</tspan></text>
<text class="lg" transform="translate(436 941) scale(1 1.035)">180 <tspan font-size="36.5" dy="-29">o</tspan><tspan dy="29">C</tspan></text>
<text class="lg" transform="translate(436 1026.5) scale(1 1.035)">210 <tspan font-size="36.5" dy="-29">o</tspan><tspan dy="29">C</tspan></text>
<text class="lg" transform="translate(436 1111.5) scale(1 1.035)">240 <tspan font-size="36.5" dy="-29">o</tspan><tspan dy="29">C</tspan></text>
<text class="ti" x="1015" y="1373.5" text-anchor="middle">Temperature (<tspan font-size="37" dy="-30">o</tspan><tspan dy="30">C)</tspan></text>
<text class="ti" transform="translate(57.5 653) rotate(-90)" text-anchor="middle">Weight (%)</text>
</svg></body></html>
